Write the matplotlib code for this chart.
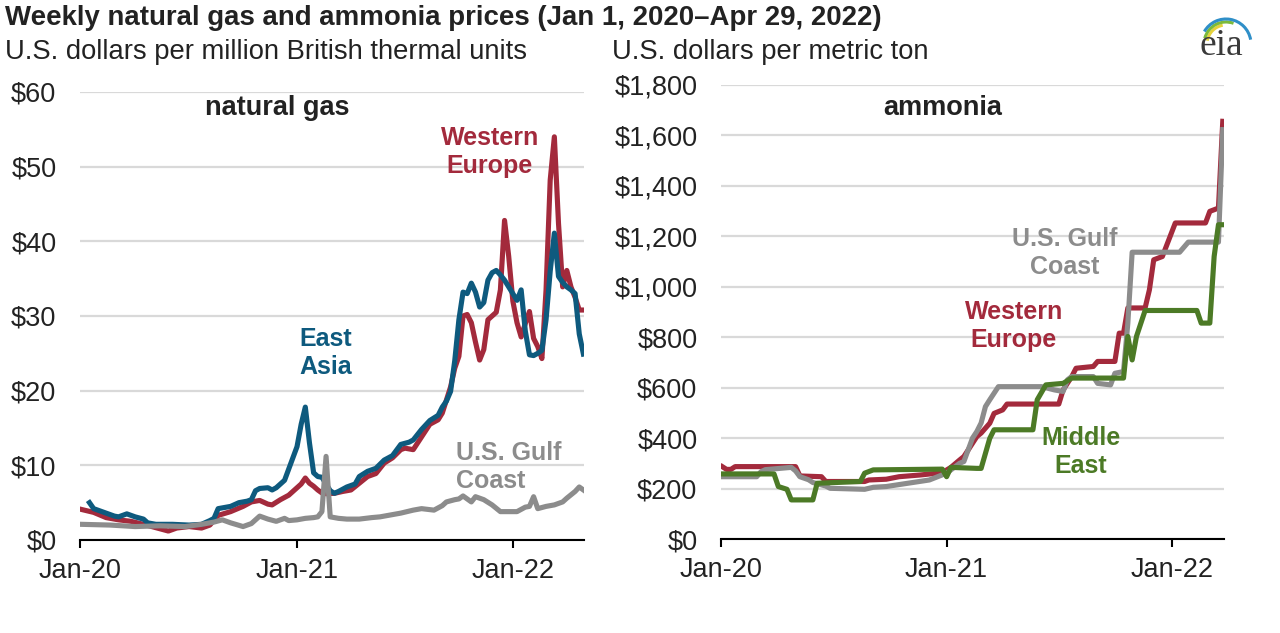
import matplotlib
matplotlib.use('Agg')
import matplotlib.pyplot as plt
import matplotlib.dates as mdates
from matplotlib.ticker import FuncFormatter
from matplotlib.patches import Arc
import numpy as np
import pandas as pd

plt.rcParams['font.family'] = ['Liberation Sans', 'DejaVu Sans']

# ---------- data (weekly prices, week 0 = Jan 3, 2020) ----------
# natural gas, $/MMBtu
eu_gas_weeks = [0, 3, 6, 9, 12, 15, 17, 19, 21, 23, 26, 29, 31, 33, 36, 39, 41, 43, 45, 46,
                48, 50, 51, 53, 54, 55, 56, 57, 58, 59, 61, 63, 65, 67, 69, 71, 73, 75, 77, 78,
                80, 82, 84, 86, 87, 88, 89, 90, 91, 92, 93, 94, 95, 96, 97, 98, 99, 100, 101, 102,
                103, 104, 105, 106, 107, 108, 109, 110, 111, 112, 113, 114, 115, 116, 117, 118,
                119, 120, 121]
eu_gas = [4.1, 3.7, 3.0, 2.7, 2.5, 2.1, 1.8, 1.5, 1.2, 1.6, 1.8, 1.6, 2.0, 3.3, 3.8, 4.5, 5.1,
          5.3, 4.8, 4.7, 5.4, 6.0, 6.5, 7.5, 8.3, 7.6, 7.2, 6.7, 6.3, 6.2, 6.25, 6.5, 6.7, 7.6,
          8.5, 8.9, 10.3, 11.0, 12.1, 12.3, 12.1, 13.8, 15.5, 16.1, 17.0, 18.75, 20.5, 23.0,
          24.6, 30.0, 30.2, 29.1, 26.5, 24.1, 25.5, 29.5, 30.0, 30.5, 33.5, 42.8, 38.0, 32.0,
          29.1, 27.2, 29.0, 30.6, 27.0, 25.9, 24.3, 33.5, 48.2, 54.0, 42.4, 33.9, 36.1, 33.9,
          32.5, 30.8, 30.8]

asia_gas_weeks = [2, 3, 5, 8, 9, 11, 13, 15, 16, 18, 22, 26, 29, 31, 32, 33, 36, 38, 40, 41,
                  42, 43, 45, 46, 47, 49, 51, 52, 53, 54, 55, 56, 57, 58, 59, 60, 61, 62, 64, 66,
                  67, 69, 71, 73, 75, 77, 79, 80, 82, 84, 86, 87, 88, 89, 90, 91, 92, 93, 94, 95,
                  96, 97, 98, 99, 100, 101, 102, 103, 104, 105, 106, 107, 108, 109, 110, 111,
                  112, 113, 114, 115, 116, 117, 118, 119, 120, 121]
asia_gas = [5.0, 4.2, 3.8, 3.2, 3.1, 3.5, 3.1, 2.8, 2.3, 2.1, 2.1, 2.0, 2.1, 2.6, 2.9, 4.2,
            4.5, 5.0, 5.2, 5.4, 6.6, 6.9, 7.0, 6.7, 7.0, 8.0, 11.0, 12.5, 15.5, 17.8, 13.0,
            9.0, 8.5, 8.4, 7.5, 6.6, 6.25, 6.5, 7.1, 7.5, 8.5, 9.2, 9.6, 10.7, 11.3, 12.8,
            13.1, 13.4, 14.8, 16.0, 16.7, 17.8, 18.6, 19.9, 24.0, 29.5, 33.2, 33.0, 34.4,
            33.2, 31.2, 31.8, 34.8, 35.8, 36.1, 35.5, 34.8, 33.9, 33.0, 32.1, 33.5, 28.0,
            24.8, 24.7, 25.0, 25.4, 29.5, 36.0, 41.1, 35.3, 34.5, 33.9, 33.5, 33.0, 27.6, 24.9]

us_gas_weeks = [0, 7, 13, 19, 25, 29, 32, 34, 36, 39, 41, 43, 45, 47, 49, 50, 52, 54, 56, 57,
                58, 59, 60, 62, 64, 67, 70, 72, 75, 77, 80, 82, 85, 87, 88, 90, 91, 92, 94, 95,
                97, 99, 101, 103, 105, 107, 108, 109, 110, 112, 114, 116, 117, 119, 120, 121]
us_gas = [2.1, 2.0, 1.8, 1.9, 1.8, 2.1, 2.4, 2.7, 2.3, 1.8, 2.2, 3.2, 2.8, 2.5, 2.9, 2.6, 2.7,
          2.9, 3.0, 3.1, 3.8, 11.2, 3.1, 2.9, 2.8, 2.8, 3.0, 3.1, 3.4, 3.6, 4.0, 4.2, 4.0, 4.6,
          5.1, 5.4, 5.5, 5.9, 5.1, 5.8, 5.4, 4.7, 3.8, 3.8, 3.8, 4.4, 4.5, 5.8, 4.2, 4.5, 4.7,
          5.1, 5.6, 6.5, 7.1, 6.7]

# ammonia, $/metric ton
eu_nh3_weeks = [0, 1, 2, 3, 17, 18, 23, 24, 33, 34, 38, 41, 46, 51, 53, 55, 56, 57, 59, 60,
                62, 63, 65, 66, 78, 79, 81, 82, 86, 87, 91, 92, 93, 94, 98, 99, 100, 102, 105,
                112, 113, 115, 116]
eu_nh3 = [287, 276, 276, 287, 287, 250, 247, 228, 228, 234, 237, 247, 254, 263, 284, 313, 327,
          353, 406, 420, 459, 498, 512, 535, 535, 591, 644, 677, 684, 704, 704, 816, 816, 916,
          916, 988, 1107, 1120, 1253, 1253, 1299, 1312, 1656]

us_nh3_weeks = [0, 8, 9, 10, 16, 17, 18, 20, 21, 24, 25, 33, 35, 38, 43, 48, 52, 55, 56, 58,
                59, 60, 61, 62, 64, 74, 77, 79, 80, 81, 86, 87, 90, 91, 93, 94, 95, 106, 108,
                115, 116]
us_nh3 = [247, 247, 267, 275, 284, 270, 247, 235, 224, 210, 201, 197, 205, 208, 221, 234, 261,
          300, 307, 400, 426, 460, 525, 552, 604, 604, 591, 585, 631, 644, 644, 617, 611, 657,
          664, 856, 1137, 1137, 1177, 1177, 1623]

me_nh3_weeks = [0, 12, 13, 15, 16, 21, 22, 32, 33, 35, 51, 52, 53, 59, 60, 62, 63, 72, 73, 75,
                79, 81, 93, 94, 95, 96, 98, 110, 111, 113, 114, 115, 116]
me_nh3 = [258, 258, 208, 197, 155, 155, 221, 228, 261, 274, 277, 247, 284, 280, 280, 399, 433,
          433, 552, 611, 617, 638, 638, 803, 710, 803, 906, 906, 856, 856, 1120, 1246, 1246]

START = pd.Timestamp('2020-01-03')


def to_dates(weeks):
    return START + pd.to_timedelta(np.array(weeks) * 7, unit='D')


# ---------- style ----------
RED = '#a32a3c'
BLUE = '#0e5a7e'
GRAY = '#8c8c8c'
GREEN = '#4c7a26'
GRID = '#d9d9d9'
LW = 3.7

W, H = 1280, 633
fig = plt.figure(figsize=(12.8, 6.33), dpi=100)


def fx(x):
    return x / W


def fy(y):
    return 1 - y / H


def style_axis(ax, ymax, step, fmt, xend):
    ax.set_ylim(0, ymax)
    ax.set_yticks(np.arange(0, ymax + 1, step))
    ax.yaxis.set_major_formatter(FuncFormatter(fmt))
    ax.set_xlim(pd.Timestamp('2020-01-01'), pd.Timestamp(xend))
    ax.xaxis.set_major_locator(mdates.YearLocator())
    ax.xaxis.set_major_formatter(mdates.DateFormatter('%b-%y'))
    for s in ['top', 'right', 'left']:
        ax.spines[s].set_visible(False)
    ax.spines['bottom'].set_linewidth(1.5)
    ax.spines['bottom'].set_zorder(5)
    ax.grid(axis='y', color=GRID, linewidth=1.6)
    ax.set_axisbelow(True)
    ax.tick_params(axis='y', length=0, pad=17, labelsize=19.5, labelcolor='#222222')
    ax.tick_params(axis='x', length=6, width=1.5, pad=7, labelsize=19.5,
                   labelcolor='#222222')
    ax.patch.set_alpha(0)


# ---------- natural gas ----------
ax1 = fig.add_axes([fx(80), fy(540), fx(584 - 80), (540 - 92) / H])
ax1.plot(to_dates(eu_gas_weeks), eu_gas, color=RED, lw=LW, solid_joinstyle='round')
ax1.plot(to_dates(asia_gas_weeks), asia_gas, color=BLUE, lw=LW, solid_joinstyle='round')
ax1.plot(to_dates(us_gas_weeks), us_gas, color=GRAY, lw=LW, solid_joinstyle='round')
style_axis(ax1, 60, 10, lambda v, p: f'${v:.0f}', '2022-04-30')

# ---------- ammonia ----------
ax2 = fig.add_axes([fx(721), fy(539), fx(1224 - 721), (539 - 85) / H])
ax2.plot(to_dates(eu_nh3_weeks), eu_nh3, color=RED, lw=LW, solid_joinstyle='round')
ax2.plot(to_dates(us_nh3_weeks), us_nh3, color=GRAY, lw=LW, solid_joinstyle='round')
ax2.plot(to_dates(me_nh3_weeks), me_nh3, color=GREEN, lw=LW, solid_joinstyle='round')
style_axis(ax2, 1800, 200, lambda v, p: f'${v:,.0f}', '2022-03-27')

# ---------- text ----------
fig.text(fx(5), fy(18), 'Weekly natural gas and ammonia prices (Jan 1, 2020\u2013Apr 29, 2022)',
         fontsize=19.9, fontweight='bold', color='#222222', ha='left', va='center')
fig.text(fx(5), fy(52), 'U.S. dollars per million British thermal units',
         fontsize=19.7, color='#222222', ha='left', va='center')
fig.text(fx(612), fy(52), 'U.S. dollars per metric ton',
         fontsize=19.7, color='#222222', ha='left', va='center')

fig.text(fx(277), fy(108), 'natural gas', fontsize=19.5, fontweight='bold',
         color='#222222', ha='center', va='center')
fig.text(fx(943), fy(108), 'ammonia', fontsize=19.5, fontweight='bold',
         color='#222222', ha='center', va='center')

lab = dict(fontsize=18, fontweight='bold', va='center', linespacing=1.25)
fig.text(fx(490), fy(152), 'Western\nEurope', color=RED, ha='center', **lab)
fig.text(fx(326), fy(353), 'East\nAsia', color=BLUE, ha='center', **lab)
fig.text(fx(456), fy(467), 'U.S. Gulf\nCoast', color=GRAY, ha='left', **lab)
fig.text(fx(1065), fy(253), 'U.S. Gulf\nCoast', color=GRAY, ha='center', **lab)
fig.text(fx(1014), fy(326), 'Western\nEurope', color=RED, ha='center', **lab)
fig.text(fx(1081), fy(452), 'Middle\nEast', color=GREEN, ha='center', **lab)

# ---------- eia logo (pixel units inside a small box) ----------
logo = fig.add_axes([fx(1190), fy(66), fx(64), 56 / H])
logo.set_xlim(1190, 1254)
logo.set_ylim(66, 10)
logo.axis('off')
logo.text(1221, 46, 'eia', fontsize=27, family='Liberation Serif', color='#3a3a3a',
          ha='center', va='center')
for r, t1, t2, c in [(19, 100, 170, '#e6d23c'), (22, 70, 165, '#7cba3a'),
                     (25, 10, 150, '#2f8fc8')]:
    logo.add_patch(Arc((1226, 44), 2 * r, 2 * r, theta1=360 - t2, theta2=360 - t1,
                       color=c, lw=2.2))

fig.savefig('out.png', dpi=100, facecolor='white')
